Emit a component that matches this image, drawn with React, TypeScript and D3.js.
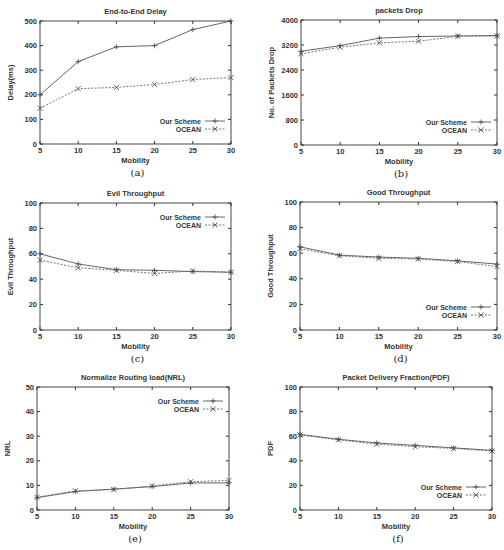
import { useRef, useEffect } from "react";
import * as d3 from "d3";

// mobility values shared by all six panels
const mobility = [5, 10, 15, 20, 25, 30];
const seriesNames = ["Our Scheme", "OCEAN"];

// (a) end-to-end delay
const delayOur = [200, 335, 395, 400, 465, 500];
const delayOcean = [145, 225, 230, 242, 262, 270];
// (b) packets drop
const dropOur = [3000, 3180, 3420, 3470, 3490, 3500];
const dropOcean = [2920, 3130, 3270, 3320, 3480, 3490];
// (c) evil throughput
const evilOur = [60, 52, 47.5, 47, 46, 45.5];
const evilOcean = [55, 49, 47, 44.5, 46.5, 45.5];
// (d) good throughput
const goodOur = [65, 58.5, 57, 56, 54, 51.5];
const goodOcean = [63.5, 58, 56, 55.5, 53.5, 49.5];
// (e) normalized routing load
const nrlOur = [5, 7.5, 8.5, 9.5, 11, 11];
const nrlOcean = [5.2, 7.8, 8.3, 9.8, 11.5, 12];
// (f) packet delivery fraction
const pdfOur = [61.5, 57.5, 54.5, 52.5, 50.5, 48.5];
const pdfOcean = [61, 57, 53.5, 51.5, 50, 48];

const titles = [
  "End-to-End Delay",
  "packets Drop",
  "Evil Throughput",
  "Good Throughput",
  "Normalize Routing load(NRL)",
  "Packet Delivery Fraction(PDF)",
];
const yLabels = [
  "Delay(ms)",
  "No. of Packets Drop",
  "Evil Throughput",
  "Good Throughput",
  "NRL",
  "PDF",
];
const captions = ["(a)", "(b)", "(c)", "(d)", "(e)", "(f)"];
const yMax = [500, 4000, 100, 100, 50, 100];
const yStep = [100, 800, 20, 20, 10, 20];
const ours = [delayOur, dropOur, evilOur, goodOur, nrlOur, pdfOur];
const oceans = [delayOcean, dropOcean, evilOcean, goodOcean, nrlOcean, pdfOcean];

// plot rectangles [left, top, right, bottom] and legend placement
const boxes: [number, number, number, number][] = [
  [40, 21, 231, 144],
  [301, 20, 497, 145],
  [40, 203, 231, 330],
  [300, 202, 497, 330],
  [37, 387, 229, 510],
  [300, 387, 492, 510],
];
const legendTop = [false, false, true, false, true, false];

const ink = "#333";
const font = "'Liberation Sans', Arial, sans-serif";

export default function App() {
  const ref = useRef<SVGSVGElement>(null);

  useEffect(() => {
    if (!ref.current) return;
    const svg = d3.select(ref.current);
    svg.selectAll("*").remove();
    svg.append("rect").attr("width", 504).attr("height", 550).attr("fill", "#fff");

    boxes.forEach(([l, t, r, b], i) => {
      const g = svg.append("g");
      const x = d3.scaleLinear().domain([5, 30]).range([l, r]);
      const y = d3.scaleLinear().domain([0, yMax[i]]).range([b, t]);
      const yTicks = d3.range(0, yMax[i] + 1, yStep[i]);

      // frame
      g.append("rect")
        .attr("x", l)
        .attr("y", t)
        .attr("width", r - l)
        .attr("height", b - t)
        .attr("fill", "none")
        .attr("stroke", ink)
        .attr("stroke-width", 0.9);

      // inward ticks, mirrored
      mobility.forEach((m) => {
        g.append("line").attr("x1", x(m)).attr("x2", x(m)).attr("y1", b).attr("y2", b - 3).attr("stroke", ink);
        g.append("line").attr("x1", x(m)).attr("x2", x(m)).attr("y1", t).attr("y2", t + 3).attr("stroke", ink);
        g.append("text")
          .attr("x", x(m))
          .attr("y", b + 9)
          .attr("text-anchor", "middle")
          .attr("font-family", font)
          .attr("font-size", 7.5)
          .attr("font-weight", "bold")
          .attr("fill", ink)
          .text(m);
      });
      yTicks.forEach((v) => {
        g.append("line").attr("x1", l).attr("x2", l + 3).attr("y1", y(v)).attr("y2", y(v)).attr("stroke", ink);
        g.append("line").attr("x1", r).attr("x2", r - 3).attr("y1", y(v)).attr("y2", y(v)).attr("stroke", ink);
        g.append("text")
          .attr("x", l - 3)
          .attr("y", y(v) + 2.6)
          .attr("text-anchor", "end")
          .attr("font-family", font)
          .attr("font-size", 7.5)
          .attr("font-weight", "bold")
          .attr("fill", ink)
          .text(v);
      });

      // title, axis labels, caption
      g.append("text")
        .attr("x", (l + r) / 2)
        .attr("y", t - 7)
        .attr("text-anchor", "middle")
        .attr("font-family", font)
        .attr("font-size", 7.5)
        .attr("font-weight", "bold")
        .attr("fill", ink)
        .text(titles[i]);
      g.append("text")
        .attr("x", (l + r) / 2)
        .attr("y", b + 19)
        .attr("text-anchor", "middle")
        .attr("font-family", font)
        .attr("font-size", 7.5)
        .attr("font-weight", "bold")
        .attr("fill", ink)
        .text("Mobility");
      g.append("text")
        .attr("transform", `translate(${l - 27},${(t + b) / 2}) rotate(-90)`)
        .attr("text-anchor", "middle")
        .attr("font-family", font)
        .attr("font-size", 7.5)
        .attr("font-weight", "bold")
        .attr("fill", ink)
        .text(yLabels[i]);
      g.append("text")
        .attr("x", (l + r) / 2 + 2)
        .attr("y", b + 32)
        .attr("text-anchor", "middle")
        .attr("font-family", "'DejaVu Serif', serif")
        .attr("font-size", 10)
        .attr("fill", "#222")
        .text(captions[i]);

      // series
      const lineGen = d3
        .line<number>()
        .x((_d, k) => x(mobility[k]))
        .y((d) => y(d));
      const sets = [ours[i], oceans[i]];
      sets.forEach((vals, s) => {
        g.append("path")
          .attr("d", lineGen(vals))
          .attr("fill", "none")
          .attr("stroke", s === 0 ? "#555" : "#666")
          .attr("stroke-width", 0.9)
          .attr("stroke-dasharray", s === 0 ? null : "2,1.5");
        vals.forEach((v, k) => {
          const cx = x(mobility[k]);
          const cy = y(v);
          const h = 2.6;
          const d =
            s === 0
              ? `M${cx - h},${cy}H${cx + h}M${cx},${cy - h}V${cy + h}`
              : `M${cx - h},${cy - h}L${cx + h},${cy + h}M${cx - h},${cy + h}L${cx + h},${cy - h}`;
          g.append("path").attr("d", d).attr("stroke", "#444").attr("stroke-width", 0.8);
        });
      });

      // legend
      const ly0 = legendTop[i] ? t + 14 : b - 23;
      seriesNames.forEach((name, s) => {
        const ly = ly0 + s * 8;
        const lx1 = r - 26;
        const lx2 = r - 6;
        g.append("text")
          .attr("x", lx1 - 4)
          .attr("y", ly + 2.5)
          .attr("text-anchor", "end")
          .attr("font-family", font)
          .attr("font-size", 7)
          .attr("font-weight", "bold")
          .attr("fill", ink)
          .text(name);
        g.append("line")
          .attr("x1", lx1)
          .attr("x2", lx2)
          .attr("y1", ly)
          .attr("y2", ly)
          .attr("stroke", s === 0 ? "#555" : "#666")
          .attr("stroke-width", 0.9)
          .attr("stroke-dasharray", s === 0 ? null : "2,1.5");
        const cx = (lx1 + lx2) / 2;
        const h = 2.6;
        const d =
          s === 0
            ? `M${cx - h},${ly}H${cx + h}M${cx},${ly - h}V${ly + h}`
            : `M${cx - h},${ly - h}L${cx + h},${ly + h}M${cx - h},${ly + h}L${cx + h},${ly - h}`;
        g.append("path").attr("d", d).attr("stroke", "#444").attr("stroke-width", 0.8);
      });
    });
  }, []);

  return (
    <svg
      ref={ref}
      width={504}
      height={550}
      style={{ position: "absolute", left: 0, top: 0, display: "block" }}
    />
  );
}
